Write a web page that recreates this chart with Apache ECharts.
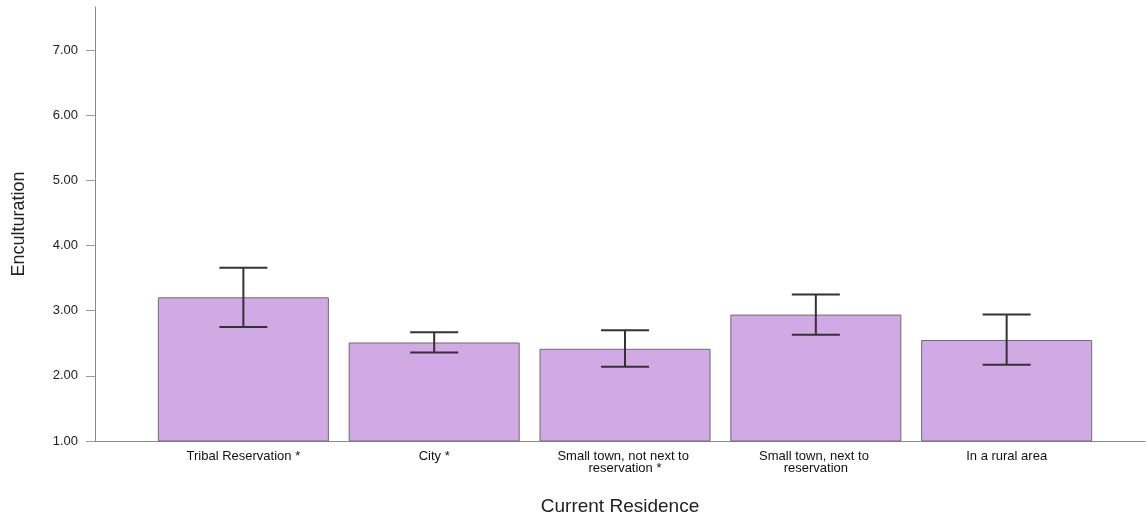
<!DOCTYPE html>
<html>
<head>
<meta charset="utf-8">
<script src="https://cdn.jsdelivr.net/npm/echarts@6/dist/echarts.min.js"></script>
<style>
html,body{margin:0;padding:0;background:#fff;}
#c{width:1147px;height:516px;}
</style>
</head>
<body>
<div id="c"></div>
<script>
var categories = ["Tribal Reservation *", "City *", "Small town, not next to reservation *", "Small town, next to reservation", "In a rural area"];
var means = [3.205, 2.512, 2.415, 2.94, 2.55];
var ciLow = [2.75, 2.36, 2.14, 2.63, 2.17];
var ciHigh = [3.66, 2.67, 2.70, 3.25, 2.94];
var yTicks = [1, 2, 3, 4, 5, 6, 7];

var chart = echarts.init(document.getElementById('c'));
var barData = means.map(function (v, i) { return [i, v]; });
var errData = means.map(function (v, i) { return [i, ciLow[i], ciHigh[i]]; });
var font = "Arial, 'Liberation Sans', sans-serif";

chart.setOption({
  animation: false,
  grid: { left: 95, right: 2, top: 7, bottom: 75, containLabel: false, outerBoundsMode: 'none' },
  xAxis: {
    type: 'value',
    min: -0.7775,
    max: 4.725,
    name: 'Current Residence',
    nameLocation: 'middle',
    nameGap: 56,
    nameTextStyle: { fontFamily: font, fontSize: 19, color: '#222' },
    axisLine: { show: true, onZero: false, lineStyle: { color: '#8a8a8a', width: 1 } },
    axisTick: { show: false },
    splitLine: { show: false },
    axisLabel: {
      customValues: [0, 1, 2, 3, 4],
      formatter: function (v) { return categories[Math.round(v)]; },
      fontFamily: font, fontSize: 13, color: '#111', lineHeight: 11.5,
      margin: 10, width: 165, overflow: 'break', align: 'center'
    }
  },
  yAxis: {
    type: 'value',
    min: 1,
    max: 7.66,
    name: 'Enculturation',
    nameLocation: 'middle',
    nameGap: 67,
    nameRotate: 90,
    nameTextStyle: { fontFamily: font, fontSize: 18, color: '#222' },
    axisLine: { show: true, onZero: false, lineStyle: { color: '#8a8a8a', width: 1 } },
    axisTick: { show: true, customValues: yTicks, length: 9, lineStyle: { color: '#9a9a9a' } },
    splitLine: { show: false },
    axisLabel: {
      customValues: yTicks,
      formatter: function (v) { return v.toFixed(2); },
      fontFamily: font, fontSize: 13, color: '#222', margin: 17
    }
  },
  series: [
    {
      type: 'bar',
      data: barData,
      barWidth: 171,
      itemStyle: { color: '#d1a9e4', borderColor: '#6f6a72', borderWidth: 1 }
    },
    {
      type: 'custom',
      data: errData,
      z: 10,
      renderItem: function (params, api) {
        var x = api.value(0);
        var lo = api.coord([x, api.value(1)]);
        var hi = api.coord([x, api.value(2)]);
        var hw = 24;
        var st = { stroke: '#333', lineWidth: 2 };
        return {
          type: 'group',
          children: [
            { type: 'line', shape: { x1: lo[0], y1: lo[1], x2: hi[0], y2: hi[1] }, style: st },
            { type: 'line', shape: { x1: hi[0] - hw, y1: hi[1], x2: hi[0] + hw, y2: hi[1] }, style: st },
            { type: 'line', shape: { x1: lo[0] - hw, y1: lo[1], x2: lo[0] + hw, y2: lo[1] }, style: st }
          ]
        };
      }
    }
  ]
});
</script>
</body>
</html>
